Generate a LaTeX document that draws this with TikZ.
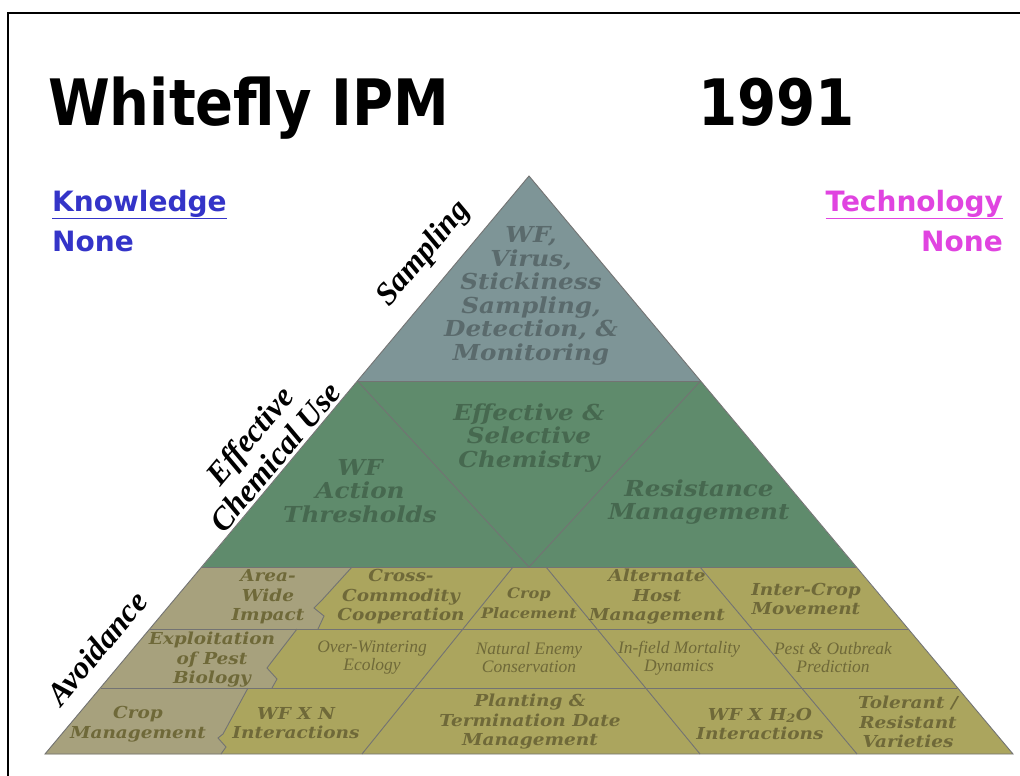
\documentclass[tikz,border=0pt]{standalone}
\usepackage{fontspec}
\usepackage{graphicx}
\setmainfont{DejaVu Sans}
\newfontfamily\headfont{DejaVu Sans}
\newfontfamily\cellfont[FakeStretch=1.12]{DejaVu Serif}
\newfontfamily\thinfont{Liberation Serif}
\usetikzlibrary{positioning}

\definecolor{samplegray}{HTML}{7E9597}
\definecolor{chemgreen}{HTML}{5F8B6C}
\definecolor{avoidolive}{HTML}{ABA55E}
\definecolor{avoidgray}{HTML}{A7A17D}
\definecolor{graytext}{HTML}{5A6A6C}
\definecolor{greentext}{HTML}{46684F}
\definecolor{olivetext}{HTML}{6F6939}
\definecolor{knowblue}{HTML}{3434C8}
\definecolor{techpink}{HTML}{E044E0}

\begin{document}
\begin{tikzpicture}[x=1pt, y=-1pt, title/.style={font=\headfont\bfseries\fontsize{64}{64}\selectfont, inner sep=0pt}, head/.style={font=\headfont\bfseries\fontsize{28}{28}\selectfont, inner sep=0pt}, side/.style={font=\thinfont\bfseries\itshape\fontsize{32}{33}\selectfont, rotate=50, align=center, inner sep=0pt}, cell/.style={font=\cellfont\bfseries\itshape\fontsize{22}{23.6}\selectfont, align=center, inner sep=0pt}, rowcell/.style={font=\cellfont\bfseries\itshape\fontsize{16.5}{19.5}\selectfont, align=center, inner sep=0pt, text=olivetext}, thincell/.style={font=\thinfont\itshape\fontsize{17.5}{18}\selectfont, align=center, inner sep=0pt, text=olivetext}, cellline/.style={draw=black!55, line width=0.9pt}]

    \useasboundingbox (0,0) rectangle (1020,776);
    \draw[line width=2pt] (8,13) rectangle (1040,800);

    %Pyramid corners
    \coordinate (apex) at (529,176);
    \coordinate (bl) at (45,754);
    \coordinate (br) at (1013,754);
    \coordinate (gl) at (357.5,381);
    \coordinate (gr) at (700.5,381);
    \coordinate (ol) at (202,567);
    \coordinate (or) at (856,567);
    \coordinate (vb) at (529,567);

    %Layers
    \fill[avoidolive] (ol) -- (or) -- (br) -- (bl) -- cycle;
    \fill[avoidgray] (ol) -- (352,567) -- (322,600) -- (314,608) -- (324,616) -- (318,629) -- (297,629) -- (270,664) -- (267,668) -- (277,679) -- (272,688) -- (248,688) -- (223,734) -- (218,738) -- (226,747) -- (221,754) -- (bl) -- cycle;
    \fill[chemgreen] (gl) -- (gr) -- (or) -- (ol) -- cycle;
    \fill[samplegray] (apex) -- (gr) -- (gl) -- cycle;

    %Lines
    \draw[cellline] (150,629) -- (908,629);
    \draw[cellline] (100.7,688) -- (957.3,688);
    \draw[cellline] (gl) -- (vb) -- (gr);
    \draw[cellline] (513,567) -- (362,754);
    \draw[cellline] (546,567) -- (700,754);
    \draw[cellline] (700,567) -- (857,754);
    \draw[cellline] (352,567) -- (322,600) -- (314,608) -- (324,616) -- (318,629);
    \draw[cellline] (297,629) -- (270,664) -- (267,668) -- (277,679) -- (272,688);
    \draw[cellline] (248,688) -- (223,734) -- (218,738) -- (226,747) -- (221,754);
    \draw[cellline] (gl) -- (gr);
    \draw[cellline] (ol) -- (or);
    \draw[cellline] (apex) -- (br) -- (bl) -- cycle;

    %Headings
    \node[title, anchor=base west] (title) at (48,125) {\scalebox{0.875}[1]{Whitefly IPM}};
    \node[title, anchor=base west] (year) at (698,125) {\scalebox{0.88}[1]{1991}};
    \node[head, text=knowblue, anchor=base west] (knowledge) at (52,211) {\underline{Knowledge}};
    \node[head, text=knowblue, below=12pt of knowledge.south west, anchor=north west] (knownone) {None};
    \node[head, text=techpink, anchor=base east] (technology) at (1003,211) {\underline{Technology}};
    \node[head, text=techpink, below=12pt of technology.south east, anchor=north east] (technone) {None};

    %Side labels
    \node[side] (sampling) at (424,254) {Sampling};
    \node[side] (chemuse) at (262,446) {Effective\\Chemical Use};
    \node[side] (avoidance) at (97,648) {Avoidance};

    %Top and middle cells
    \node[cell, text=graytext] (wfsample) at (531,296) {WF,\\Virus,\\Stickiness\\Sampling,\\Detection, \&\\Monitoring};
    \node[cell, text=greentext] (chemistry) at (529,438) {Effective \&\\Selective\\Chemistry};
    \node[cell, text=greentext] (thresholds) at (360,491) {WF\\Action\\Thresholds};
    \node[cell, text=greentext] (resistance) at (699,502) {Resistance\\Management};

    %Bottom cells
    \node[rowcell] (areawide) at (268,597) {Area-\\Wide\\Impact};
    \node[rowcell] (crosscomm) at (401,597) {Cross-\\Commodity\\Cooperation};
    \node[rowcell, font=\cellfont\bfseries\itshape\fontsize{14.5}{19.5}\selectfont] (placement) at (529,603) {Crop\\Placement};
    \node[rowcell] (althost) at (657,597) {Alternate\\Host\\Management};
    \node[rowcell] (intercrop) at (806,599) {Inter-Crop\\Movement};
    \node[rowcell] (exploit) at (212,660) {Exploitation\\of Pest\\Biology};
    \node[thincell] (overwinter) at (372,658) {Over-Wintering\\Ecology};
    \node[thincell] (natenemy) at (529,658) {Natural Enemy\\Conservation};
    \node[thincell] (infield) at (679,658) {In-field Mortality\\Dynamics};
    \node[thincell] (outbreak) at (833,658) {Pest \& Outbreak\\Prediction};
    \node[rowcell] (cropmgmt) at (138,724) {Crop\\Management};
    \node[rowcell] (wfxn) at (296,723) {WF X N\\Interactions};
    \node[rowcell] (planting) at (530,722) {Planting \&\\Termination Date\\Management};
    \node[rowcell] (wfxh) at (760,724) {WF X H\textsubscript{2}O\\Interactions};
    \node[rowcell] (tolerant) at (908,722) {Tolerant /\\Resistant\\Varieties};

\end{tikzpicture}
\end{document}
